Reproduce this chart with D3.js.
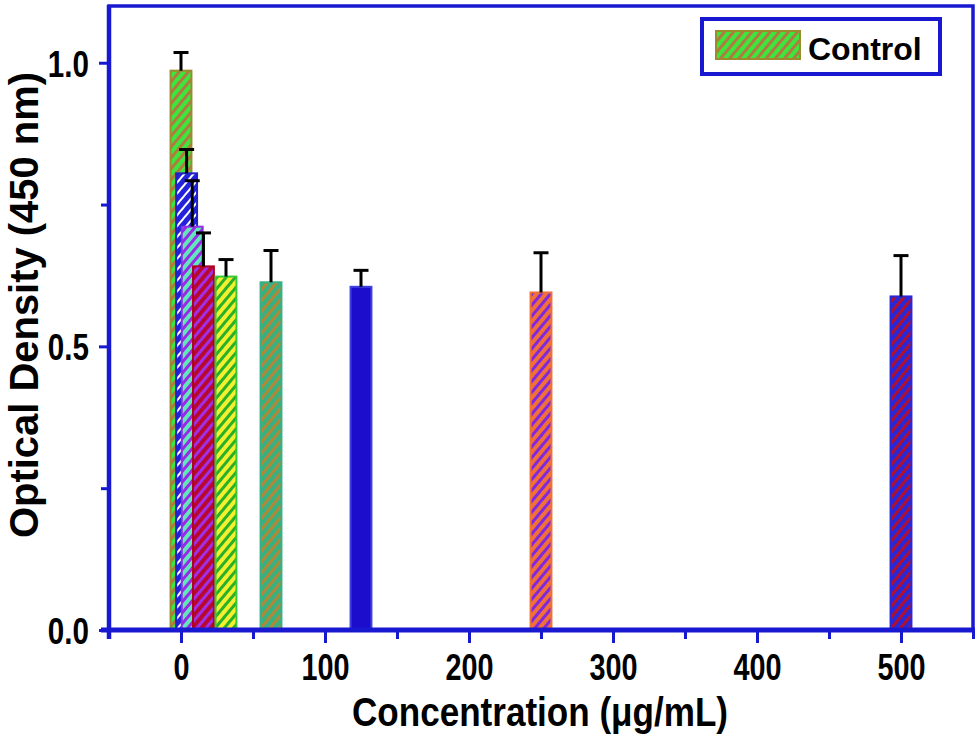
<!DOCTYPE html>
<html>
<head>
<meta charset="utf-8">
<script src="https://cdn.jsdelivr.net/npm/d3@7"></script>
<style>
  html, body { margin: 0; padding: 0; background: #fff; }
  svg { display: block; }
  text { font-family: "Liberation Sans", Arial, sans-serif; font-weight: bold; fill: #000; }
</style>
</head>
<body>
<svg id="chart" width="978" height="736"></svg>
<script>
// ---- data ----
const concentrations = [0, 3.9, 7.8, 15.6, 31.25, 62.5, 125, 250, 500];
const means = [0.986, 0.805, 0.711, 0.641, 0.623, 0.613, 0.605, 0.595, 0.588];
const errors = [0.032, 0.042, 0.081, 0.059, 0.030, 0.056, 0.029, 0.070, 0.072];
const xMajorTicks = [0, 100, 200, 300, 400, 500];
const xMinorTicks = [-50, 50, 150, 250, 350, 450, 550];
const yMajorTicks = [0, 0.5, 1.0];
const yMinorTicks = [0.25, 0.75];
const legendLabel = "Control";
const xTitle = "Concentration (\u03bcg/mL)";
const yTitle = "Optical Density (450 nm)";

// ---- styles (fill, stripe, border) ----
const barStyles = [
  { base: "#3ce63c", stripe: "#b07a40", border: "#9c8a2c", sw: 3 },
  { base: "#2222dc", stripe: "#ffffff", border: "#2020c8", sw: 2 },
  { base: "#60e8b8", stripe: "#9a28e8", border: "#9030e0", sw: 3 },
  { base: "#b80830", stripe: "#a030e8", border: "#b00020", sw: 3 },
  { base: "#f4f030", stripe: "#28b028", border: "#38c838", sw: 3 },
  { base: "#38b080", stripe: "#b08838", border: "#38b088", sw: 3 },
  { base: "#1c0ccc", stripe: null,      border: "#4040e0", sw: 0 },
  { base: "#f07038", stripe: "#8028e0", border: "#f07038", sw: 3 },
  { base: "#2828d8", stripe: "#b01030", border: "#2828d8", sw: 3 }
];
const axisBlue = "#1818d0";
const barWidthUnits = 14.5;

const svg = d3.select("#chart");
const x = d3.scaleLinear().domain([-50, 550]).range([109, 973]);
const y = d3.scaleLinear().domain([0, 1.1]).range([630, 6]);

// patterns
const defs = svg.append("defs");
barStyles.forEach((s, i) => {
  if (!s.stripe) return;
  const p = defs.append("pattern")
    .attr("id", "pat" + i)
    .attr("patternUnits", "userSpaceOnUse")
    .attr("width", 7).attr("height", 7)
    .attr("patternTransform", "rotate(40)");
  p.append("rect").attr("width", 7).attr("height", 7).attr("fill", s.base);
  p.append("rect").attr("x", 0).attr("y", 0).attr("width", s.sw).attr("height", 7).attr("fill", s.stripe);
});
const fillOf = i => barStyles[i].stripe ? `url(#pat${i})` : barStyles[i].base;

// bars
const data = concentrations.map((c, i) => ({ c, m: means[i], e: errors[i], i }));
const bw = x(barWidthUnits) - x(0);
svg.append("g").selectAll("rect").data(data).join("rect")
  .attr("x", d => x(d.c) - bw / 2)
  .attr("y", d => y(d.m))
  .attr("width", bw)
  .attr("height", d => y(0) - y(d.m))
  .attr("fill", d => fillOf(d.i))
  .attr("stroke", d => barStyles[d.i].border)
  .attr("stroke-width", 2);

// error bars
const eg = svg.append("g").attr("stroke", "#000").attr("stroke-width", 3);
data.forEach(d => {
  eg.append("line").attr("x1", x(d.c)).attr("x2", x(d.c))
    .attr("y1", y(d.m)).attr("y2", y(d.m + d.e));
  eg.append("line").attr("x1", x(d.c) - 7.5).attr("x2", x(d.c) + 7.5)
    .attr("y1", y(d.m + d.e)).attr("y2", y(d.m + d.e));
});

// axes
function styleAxis(g) {
  g.select(".domain").remove();
  g.selectAll(".tick line").attr("stroke", axisBlue).attr("stroke-width", 3);
}
const xMinor = svg.append("g").attr("transform", `translate(0,${y(0)})`)
  .call(d3.axisBottom(x).tickValues(xMinorTicks).tickSize(9).tickFormat(""));
styleAxis(xMinor);
const xMajor = svg.append("g").attr("transform", `translate(0,${y(0)})`)
  .call(d3.axisBottom(x).tickValues(xMajorTicks).tickSize(13).tickPadding(14).tickFormat(d3.format("d")));
styleAxis(xMajor);
xMajor.selectAll(".tick text").style("font-size", "36px").attr("dy", 0).attr("y", 50);

const yMinor = svg.append("g").attr("transform", `translate(${x(-50)},0)`)
  .call(d3.axisLeft(y).tickValues(yMinorTicks).tickSize(8).tickFormat(""));
styleAxis(yMinor);
const yMajor = svg.append("g").attr("transform", `translate(${x(-50)},0)`)
  .call(d3.axisLeft(y).tickValues(yMajorTicks).tickSize(10).tickPadding(10).tickFormat(d3.format(".1f")));
styleAxis(yMajor);
yMajor.selectAll(".tick text").style("font-size", "37px").attr("dy", "0.36em");

// condense tick labels (narrow bold face in the original)
svg.selectAll(".tick text").each(function () {
  const len = this.getComputedTextLength();
  d3.select(this).attr("textLength", len * 0.8).attr("lengthAdjust", "spacingAndGlyphs");
});

// frame
svg.append("rect")
  .attr("x", x(-50)).attr("y", y(1.1))
  .attr("width", x(550) - x(-50)).attr("height", y(0) - y(1.1))
  .attr("fill", "none").attr("stroke", axisBlue).attr("stroke-width", 3.5);
svg.append("line").attr("x1", x(-50) - 8).attr("x2", x(550) + 2)
  .attr("y1", y(0)).attr("y2", y(0)).attr("stroke", axisBlue).attr("stroke-width", 5);
svg.append("line").attr("x1", x(-50)).attr("x2", x(-50))
  .attr("y1", y(1.1) - 1).attr("y2", y(0) + 9).attr("stroke", axisBlue).attr("stroke-width", 4.5);

// axis titles
svg.append("text").attr("x", 540).attr("y", 726).attr("text-anchor", "middle")
  .style("font-size", "40px").attr("textLength", 376).attr("lengthAdjust", "spacingAndGlyphs")
  .text(xTitle);
svg.append("text").attr("transform", "translate(38,305) rotate(-90)").attr("text-anchor", "middle")
  .style("font-size", "41px").attr("textLength", 466).attr("lengthAdjust", "spacingAndGlyphs")
  .text(yTitle);

// legend
const lg = svg.append("g");
lg.append("rect").attr("x", 702).attr("y", 19).attr("width", 238).attr("height", 55)
  .attr("fill", "#fff").attr("stroke", axisBlue).attr("stroke-width", 4);
lg.append("rect").attr("x", 716).attr("y", 31).attr("width", 84).attr("height", 28)
  .attr("fill", fillOf(0)).attr("stroke", barStyles[0].border).attr("stroke-width", 2);
lg.append("text").attr("x", 808).attr("y", 60).style("font-size", "32px").text(legendLabel);
</script>
</body>
</html>
